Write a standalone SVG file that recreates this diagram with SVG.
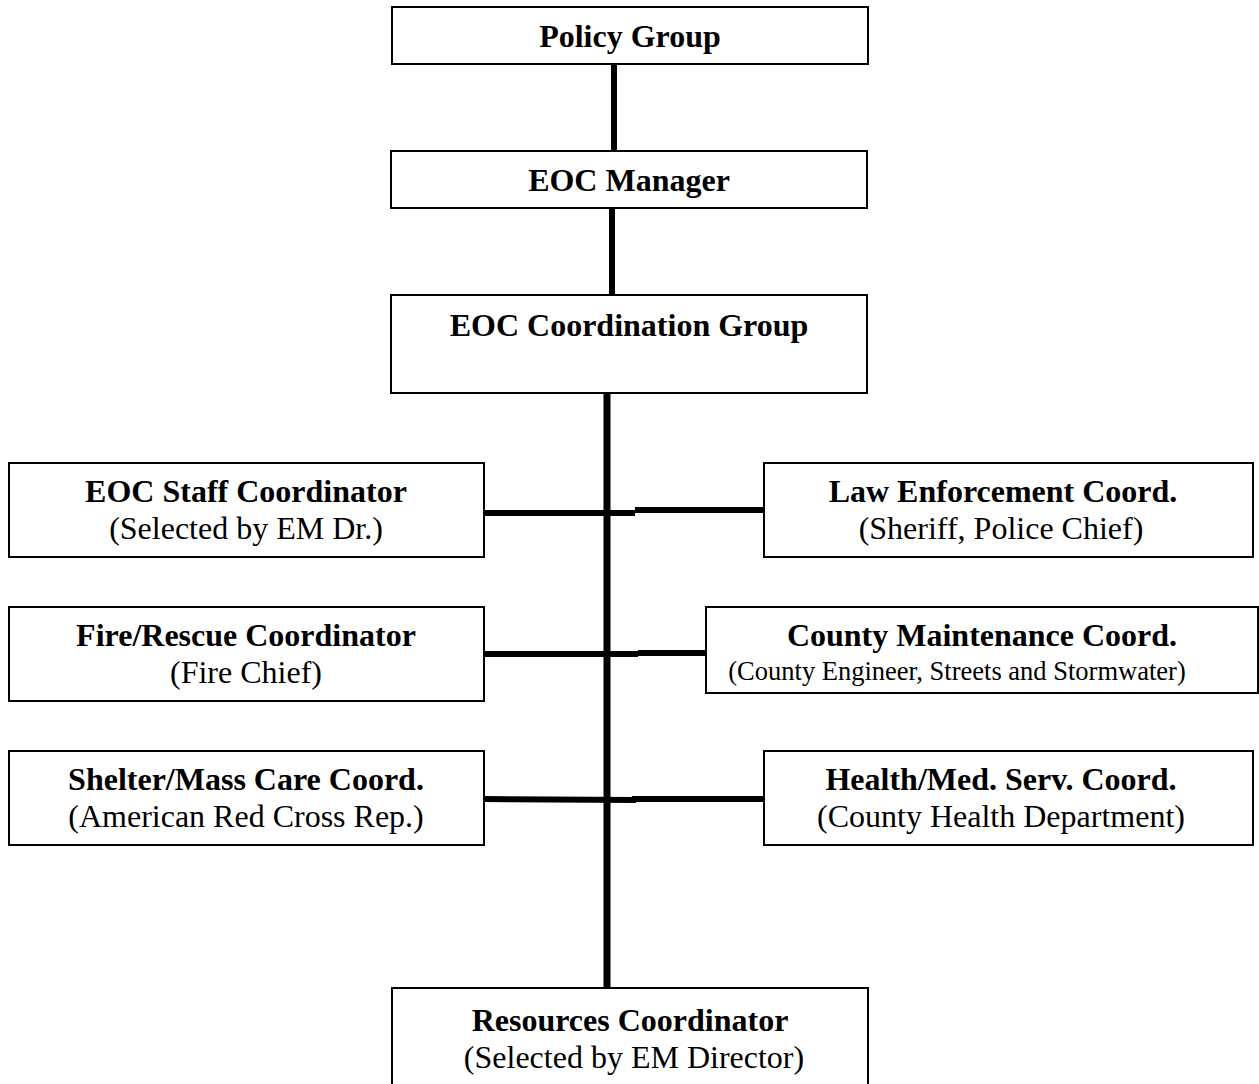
<svg xmlns="http://www.w3.org/2000/svg" width="1259" height="1084" viewBox="0 0 1259 1084">
<style>
.box{fill:#fff;stroke:#000;stroke-width:2}
.t{font-family:"Liberation Serif","Times New Roman",serif;font-size:32px;text-anchor:middle;fill:#000}
.b{font-weight:bold}
.s{font-size:26.5px}
.c{stroke:#000;stroke-width:6;fill:none}
</style>
<rect width="1259" height="1084" fill="#fff"/>
<g id="connectors">
<line class="c" x1="614" y1="64" x2="614" y2="151"/>
<line class="c" x1="612" y1="208" x2="612" y2="295"/>
<line class="c" x1="607" y1="393" x2="607" y2="988" style="stroke-width:7"/>
<line class="c" x1="484" y1="513" x2="635" y2="513"/>
<line class="c" x1="635" y1="510" x2="768" y2="510"/>
<line class="c" x1="484" y1="654" x2="638" y2="654"/>
<line class="c" x1="638" y1="653" x2="706" y2="653"/>
<line class="c" x1="484" y1="799" x2="636" y2="800"/>
<line class="c" x1="632" y1="799" x2="764" y2="799"/>
</g>
<g id="policy-group">
<rect class="box" x="392" y="7" width="476" height="57"/>
<text class="t b" x="630" y="47">Policy Group</text>
</g>
<g id="eoc-manager">
<rect class="box" x="391" y="151" width="476" height="57"/>
<text class="t b" x="629" y="191">EOC Manager</text>
</g>
<g id="eoc-coordination-group">
<rect class="box" x="391" y="295" width="476" height="98"/>
<text class="t b" x="629" y="336">EOC Coordination Group</text>
</g>
<g id="eoc-staff-coordinator">
<rect class="box" x="9" y="463" width="475" height="94"/>
<text class="t b" x="246" y="502">EOC Staff Coordinator</text>
<text class="t" x="246" y="539">(Selected by EM Dr.)</text>
</g>
<g id="law-enforcement-coord">
<rect class="box" x="764" y="463" width="489" height="94"/>
<text class="t b" x="1003" y="502">Law Enforcement Coord.</text>
<text class="t" x="1001" y="539">(Sheriff, Police Chief)</text>
</g>
<g id="fire-rescue-coordinator">
<rect class="box" x="9" y="607" width="475" height="94"/>
<text class="t b" x="246" y="646">Fire/Rescue Coordinator</text>
<text class="t" x="246" y="683">(Fire Chief)</text>
</g>
<g id="county-maintenance-coord">
<rect class="box" x="706" y="607" width="552" height="86"/>
<text class="t b" x="982" y="646">County Maintenance Coord.</text>
<text class="t s" x="957" y="680">(County Engineer, Streets and Stormwater)</text>
</g>
<g id="shelter-mass-care-coord">
<rect class="box" x="9" y="751" width="475" height="94"/>
<text class="t b" x="246" y="790">Shelter/Mass Care Coord.</text>
<text class="t" x="246" y="827">(American Red Cross Rep.)</text>
</g>
<g id="health-med-serv-coord">
<rect class="box" x="764" y="751" width="489" height="94"/>
<text class="t b" x="1001" y="790">Health/Med. Serv. Coord.</text>
<text class="t" x="1001" y="827">(County Health Department)</text>
</g>
<g id="resources-coordinator">
<rect class="box" x="392" y="988" width="476" height="110"/>
<text class="t b" x="630" y="1031">Resources Coordinator</text>
<text class="t" x="634" y="1068">(Selected by EM Director)</text>
</g>
</svg>
